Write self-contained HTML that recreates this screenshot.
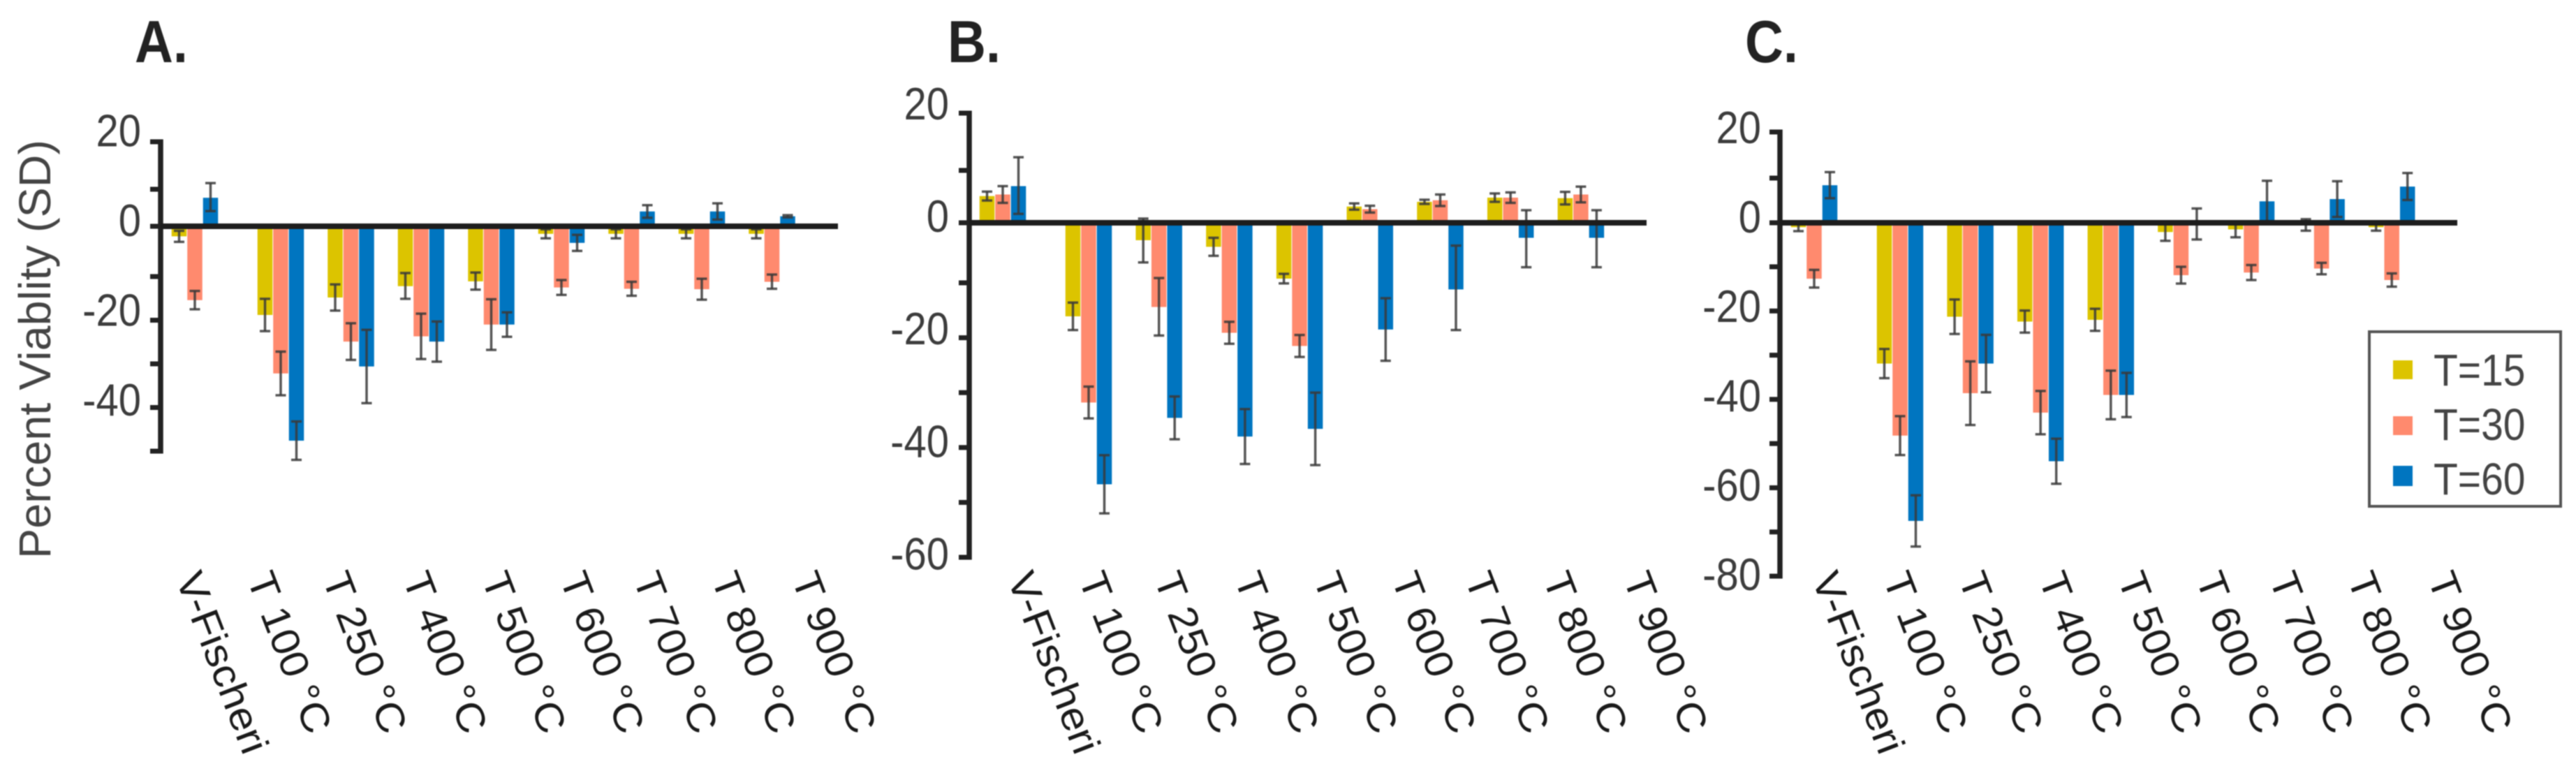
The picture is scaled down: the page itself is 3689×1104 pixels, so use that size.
<!DOCTYPE html>
<html lang="en">
<head>
<meta charset="utf-8">
<title>Percent Viability Bar Charts</title>
<style>
html,body{margin:0;padding:0;background:#fff;}
svg{display:block;filter:blur(0.7px);}
text{font-family:"Liberation Sans",sans-serif;}
</style>
</head>
<body>
<svg id="figure" xmlns="http://www.w3.org/2000/svg" width="3689" height="1104" viewBox="0 0 3689 1104">
  <rect x="0" y="0" width="3689" height="1104" fill="#ffffff"/>
  <text transform="translate(193,89) scale(1,1.12)" font-size="76" font-weight="bold" fill="#222">A.</text>
  <text transform="translate(1357,89) scale(1,1.12)" font-size="76" font-weight="bold" fill="#222">B.</text>
  <text transform="translate(2499,89) scale(1,1.12)" font-size="76" font-weight="bold" fill="#222">C.</text>
  <text transform="translate(72,800) rotate(-90)" font-size="64" fill="#444" textLength="600" lengthAdjust="spacingAndGlyphs">Percent Viablity (SD)</text>
  <g id="panel-a"></g>
  <g id="panel-b"></g>
  <g id="panel-c"></g>
  <g>
    <rect x="3393" y="475" width="274" height="250" fill="#fff" stroke="#555" stroke-width="4"/>
    <rect x="3427" y="516" width="28" height="27" fill="#dcc400"/>
    <text transform="translate(3485,552) scale(1,1.12)" font-size="57" fill="#444">T=15</text>
    <rect x="3427" y="596" width="28" height="27" fill="#ff8a6e"/>
    <text transform="translate(3485,630) scale(1,1.12)" font-size="57" fill="#444">T=30</text>
    <rect x="3427" y="667" width="28" height="29" fill="#0075c0"/>
    <text transform="translate(3485,708) scale(1,1.12)" font-size="57" fill="#444">T=60</text>
  </g>
</svg>
<script>
// ---- Data ----
const categories = ['V-Fischeri','T 100 °C','T 250 °C','T 400 °C','T 500 °C','T 600 °C','T 700 °C','T 800 °C','T 900 °C'];
const seriesNames = ['T=15','T=30','T=60'];

const aT15 = [-2,-18.8,-14.8,-12.2,-11.1,-1.5,-1.5,-1.5,-1.5];
const aT30 = [-15.4,-32.2,-24.9,-23.7,-21,-12.5,-12.8,-12.9,-11.2];
const aT60 = [7.7,-47.6,-30.6,-24.9,-21,-3.3,4,4,2.7];
const aErr15 = [1.1,3.7,3,2.9,1.9,0.9,0.9,0.9,0.9];
const aErr30 = [2.1,5,4.2,5.2,5.8,1.7,1.6,2.4,1.6];
const aErr60 = [3.6,4.4,8.4,4.6,2.8,1.6,1.7,2.2,0.3];
const aTicks = [20,10,0,-10,-20,-30,-40,-50];
const aTickLabels = [20,0,-20,-40];

const bT15 = [5.1,-16.1,-2.9,-4,-9.3,3.1,4,4.8,4.7];
const bT30 = [5.4,-31.8,-14.4,-19.1,-21.5,2.6,4.3,4.8,5.4];
const bT60 = [7,-46.7,-34.6,-38,-36.6,-18.5,-11.2,-2.5,-2.5];
const bErr15 = [0.85,2.5,3.7,1.5,0.8,0.6,0.4,0.8,1.2];
const bErr30 = [1.6,2.9,5.2,2,2,0.65,1.1,1,1.5];
const bErr60 = [5.3,5.3,3.9,5,6.6,5.7,7.4,4.9,4.9];
const bTicks = [20,10,0,-10,-20,-30,-40,-50,-60];
const bTickLabels = [20,0,-20,-40,-60];

const cT15 = [-1,-31.9,-21.3,-22.4,-22,-2.1,-1.5,-0.5,-1];
const cT30 = [-12.7,-48.2,-38.6,-43,-39,-11.9,-11.3,-10.4,-13];
const cT60 = [8.4,-67.5,-31.9,-54,-39,-0.3,4.8,5.3,8.1];
const cErr15 = [0.9,3.3,3.9,2.5,2.5,2,1.8,1.3,0.8];
const cErr30 = [2,4.4,7.2,4.9,5.5,1.9,1.7,1.3,1.5];
const cErr60 = [2.9,5.8,6.5,5.1,5,3.5,4.6,4,3];
const cTicks = [20,10,0,-10,-20,-30,-40,-50,-60,-70,-80];
const cTickLabels = [20,0,-20,-40,-60,-80];

const seriesColors = ['#dcc400','#ff8a6e','#0075c0'];

// ---- Axis helpers ----
const SVGNS = 'http://www.w3.org/2000/svg';

function scaleY(domain, range) {
  return function (v) {
    for (let i = 0; i < domain.length - 1; i++) {
      if (v <= domain[i] && v >= domain[i + 1] || i === domain.length - 2) {
        const t = (v - domain[i]) / (domain[i + 1] - domain[i]);
        return range[i] + t * (range[i + 1] - range[i]);
      }
    }
    return range[0] + (v - domain[0]) * (range[1] - range[0]) / (domain[1] - domain[0]);
  };
}

function scaleX(center0, firstGap, pitch) {
  return function (i) {
    return i === 0 ? center0 : center0 + firstGap + (i - 1) * pitch;
  };
}

function shape(tag, parent, props) {
  const el = document.createElementNS(SVGNS, tag);
  Object.keys(props).forEach(function (k) { el.setAttribute(k, props[k]); });
  parent.appendChild(el);
  return el;
}

function drawPanel(cfg) {
  const g = document.getElementById(cfg.id);
  const y = cfg.y;
  const x = cfg.x;
  const zero = y(0);
  const barPitch = 22.5;
  const barWidth = 21.5;
  const labelSteps = [0, 102, 210, 325, 438, 550, 655, 767, 882];

  cfg.series.forEach(function (values, s) {
    values.forEach(function (v, i) {
      const cx = x(i) + (s - 1) * barPitch;
      const top = Math.min(y(v), zero);
      const bar = shape('rect', g, {
        x: cx - barWidth / 2,
        y: top,
        width: barWidth,
        height: Math.abs(y(v) - zero),
        fill: seriesColors[s]
      });
      
      
    });
  });

  cfg.series.forEach(function (values, s) {
    values.forEach(function (v, i) {
      const cx = x(i) + (s - 1) * barPitch;
      const e = cfg.errors[s][i];
      const y1 = y(v + e);
      const y2 = y(v - e);
      const stem = shape('line', g, { x1: cx, x2: cx, y1: y1, y2: y2, stroke: '#3a3a3a', 'stroke-width': 3.5, 'stroke-opacity': 0.85 });
      
      
      const capTop = shape('line', g, { x1: cx - 7.5, x2: cx + 7.5, y1: y1, y2: y1, stroke: '#3a3a3a', 'stroke-width': 3.5, 'stroke-opacity': 0.85 });
      
      
      const capBottom = shape('line', g, { x1: cx - 7.5, x2: cx + 7.5, y1: y2, y2: y2, stroke: '#3a3a3a', 'stroke-width': 3.5, 'stroke-opacity': 0.85 });
      
      
    });
  });

  const axis = shape('line', g, { x1: cfg.axisX, x2: cfg.axisX, y1: y(cfg.ticks[0]) - 3.5, y2: y(cfg.ticks[cfg.ticks.length - 1]) + 3.5, stroke: '#222', 'stroke-width': 7.5 });
  
  

  cfg.ticks.forEach(function (t) {
    const tick = shape('line', g, { x1: cfg.axisX - 15, x2: cfg.axisX, y1: y(t), y2: y(t), stroke: '#222', 'stroke-width': 7 });
    
    
  });

  const base = shape('line', g, { x1: cfg.axisX, x2: cfg.baseEnd, y1: zero, y2: zero, stroke: '#1d1d1d', 'stroke-width': 8 });
  
  

  cfg.tickLabels.forEach(function (t) {
    const label = shape('text', g, {
      transform: 'translate(' + cfg.labelRight + ',' + (cfg.labelZero - cfg.labelK * t) + ') scale(1,1.12)',
      'font-size': 58,
      'text-anchor': 'end',
      fill: '#3c3c3c'
    });
    label.textContent = String(t);
    
    
  });

  categories.forEach(function (c, i) {
    const label = shape('text', g, {
      transform: 'translate(' + (cfg.labelStart + labelSteps[i]) + ',828) rotate(69) scale(1.08,1)',
      'font-size': 57,
      fill: '#1a1a1a'
    });
    label.textContent = c;
    
    
  });
}

drawPanel({
  id: 'panel-a',
  series: [aT15, aT30, aT60],
  errors: [aErr15, aErr30, aErr60],
  ticks: aTicks,
  tickLabels: aTickLabels,
  y: scaleY([20, 10, 0, -10, -50], [203, 271, 324, 396, 646]),
  x: scaleX(279, 123, 100.5),
  axisX: 230,
  baseEnd: 1200,
  labelRight: 202,
  labelZero: 338,
  labelK: 6.43,
  labelStart: 251
});

drawPanel({
  id: 'panel-b',
  series: [bT15, bT30, bT60],
  errors: [bErr15, bErr30, bErr60],
  ticks: bTicks,
  tickLabels: bTickLabels,
  y: scaleY([20, 10, 0, -10, -60], [162, 244, 319, 405, 798]),
  x: scaleX(1436, 123, 100.7),
  axisX: 1388,
  baseEnd: 2358,
  labelRight: 1359,
  labelZero: 332,
  labelK: 8.06,
  labelStart: 1442
});

drawPanel({
  id: 'panel-c',
  series: [cT15, cT30, cT60],
  errors: [cErr15, cErr30, cErr60],
  ticks: cTicks,
  tickLabels: cTickLabels,
  y: scaleY([20, 10, 0, -10, -80], [189, 255, 319, 382, 825]),
  x: scaleX(2598, 123, 100.6),
  axisX: 2549,
  baseEnd: 3519,
  labelRight: 2522,
  labelZero: 333,
  labelK: 6.4,
  labelStart: 2594
});
</script>
</body>
</html>
